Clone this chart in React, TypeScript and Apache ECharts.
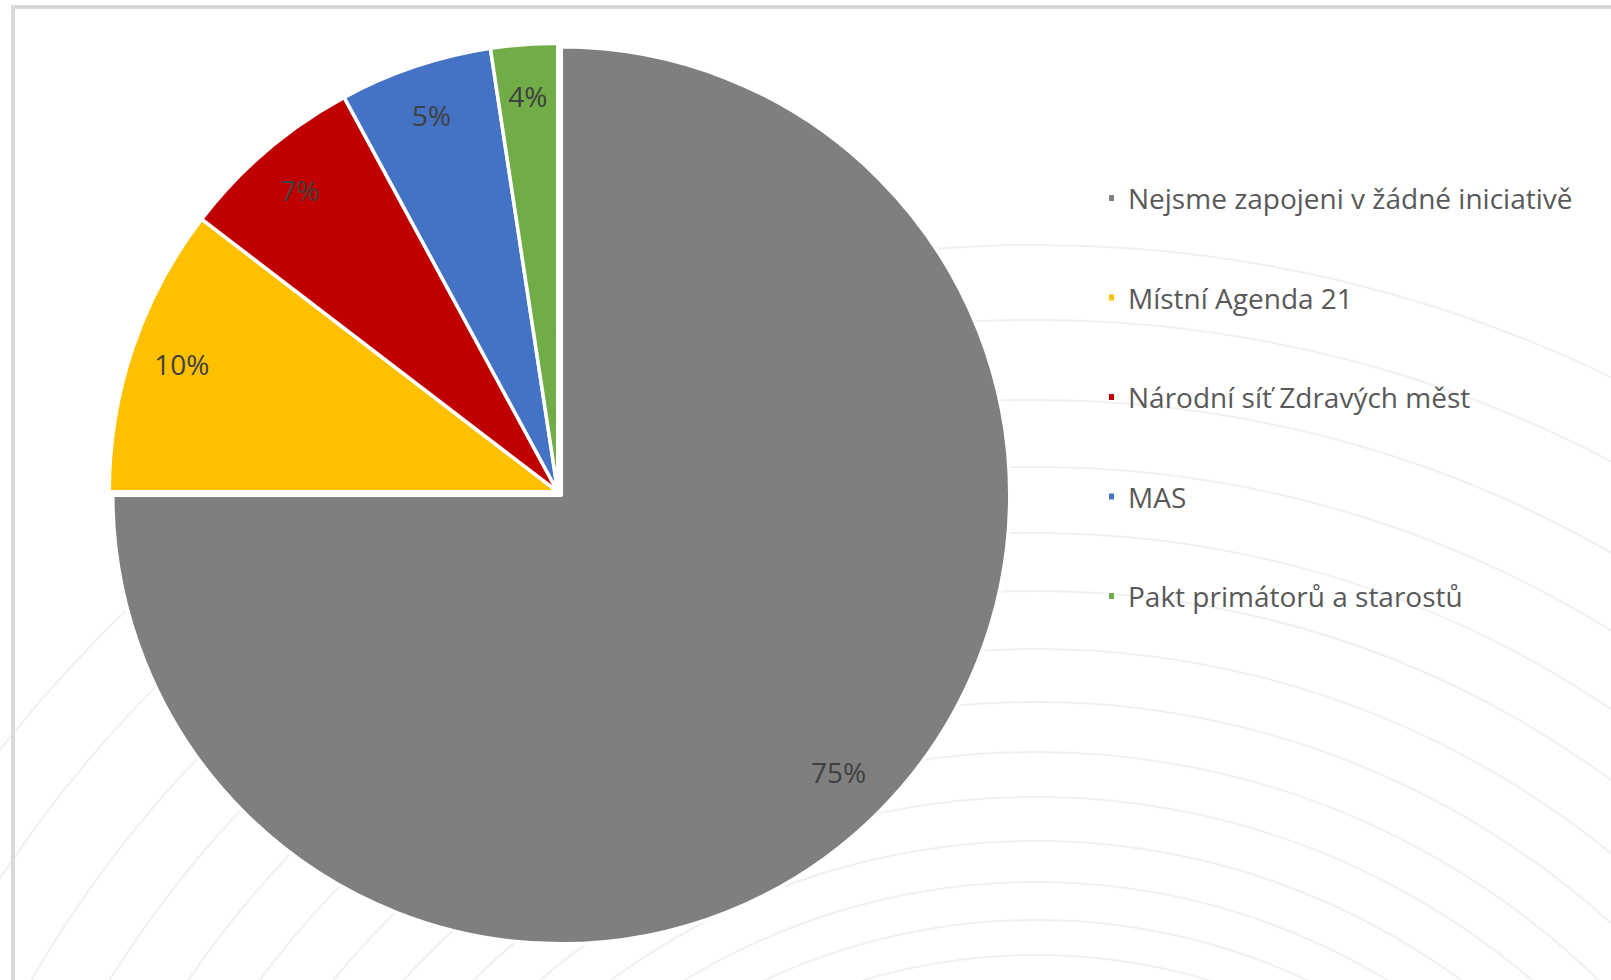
import React, { useEffect, useRef } from "react";
import * as echarts from "echarts";

const categories = [
  "Nejsme zapojeni v žádné iniciativě",
  "Místní Agenda 21",
  "Národní síť Zdravých měst",
  "MAS",
  "Pakt primátorů a starostů",
];
// slice shares as drawn (percent of the circle)
const values = [75, 10.4, 6.7, 5.5, 2.4];
// data labels as printed on the chart
const labelTexts = ["75%", "10%", "7%", "5%", "4%"];
const colors = ["#7f7f7f", "#ffc000", "#c00000", "#4472c4", "#70ad47"];
// decorative background rings: y of each ring's top
const ringTops = [245, 320, 400, 467, 533, 591, 649, 702, 752, 797, 841, 882, 920, 955];

export default function App() {
  const ref = useRef<HTMLDivElement>(null);
  useEffect(() => {
    if (!ref.current) return;
    const chart = echarts.init(ref.current, undefined, { renderer: "svg" });
    const ringCx = 1036;
    const ringCy = 1560;
    const cx = 557.75;
    const cy = 491.75;
    const graphics: any[] = ringTops.map((t) => ({
      type: "circle",
      z: -10,
      silent: true,
      shape: { cx: ringCx, cy: ringCy, r: ringCy - t },
      style: { fill: "none", stroke: "#f0f0f0", lineWidth: 2 },
    }));
    graphics.push({
      type: "rect",
      z: 100,
      silent: true,
      shape: { x: 13, y: 7, width: 1700, height: 1100 },
      style: { fill: "none", stroke: "#d9d9d9", lineWidth: 4 },
    });
    chart.setOption({
      animation: false,
      backgroundColor: "#ffffff",
      color: colors,
      graphic: { elements: graphics },
      legend: {
        orient: "vertical",
        left: 1102,
        top: 179,
        icon: "rect",
        itemWidth: 7,
        itemHeight: 8,
        itemGap: 71.5,
        selectedMode: false,
        data: categories,
        textStyle: {
          fontFamily: "Open Sans",
          fontSize: 28,
          lineHeight: 28,
          color: "#595959",
          padding: [0, 0, 0, 8],
        },
      },
      series: [
        {
          type: "pie",
          center: [cx, cy],
          radius: [0, 448.5],
          startAngle: 90,
          clockwise: true,
          selectedMode: "single",
          selectedOffset: 5,
          silent: true,
          label: { show: false },
          labelLine: { show: false },
          itemStyle: { borderColor: "#ffffff", borderWidth: 3.5 },
          select: { itemStyle: { borderColor: "#ffffff", borderWidth: 3.5 } },
          data: categories.map((name, i) => ({
            name,
            value: values[i],
            selected: i === 0,
            itemStyle: { color: colors[i] },
          })),
        },
        {
          type: "pie",
          center: [cx, cy],
          radius: [341, 447],
          startAngle: 90,
          clockwise: true,
          silent: true,
          z: 5,
          itemStyle: { color: "rgba(0,0,0,0)", borderWidth: 0 },
          labelLine: { show: false },
          label: {
            show: true,
            position: "inside",
            fontFamily: "Open Sans",
            fontSize: 28,
            color: "#404040",
            formatter: (p: any) => labelTexts[p.dataIndex],
          },
          data: categories.map((name, i) => ({
            name: "lbl" + i,
            value: values[i],
          })),
        },
      ],
    });
    return () => chart.dispose();
  }, []);
  return (
    <div
      ref={ref}
      style={{ position: "absolute", left: 0, top: 0, width: 1611, height: 980 }}
    />
  );
}
